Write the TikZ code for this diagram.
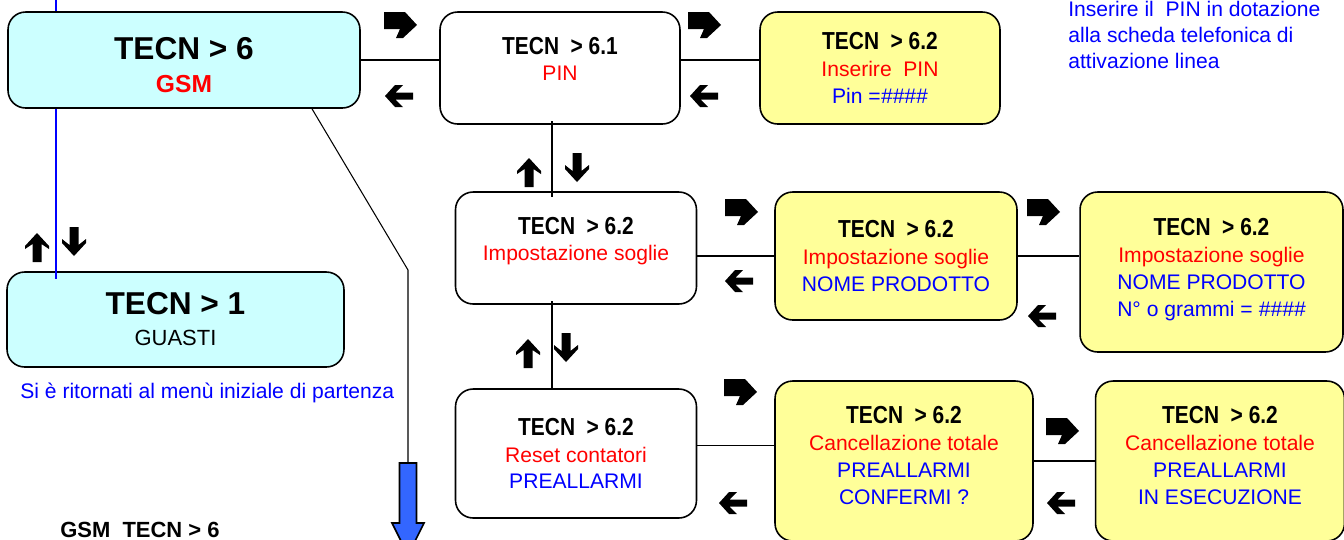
\documentclass[tikz,border=0pt]{standalone}
\usepackage{fontspec}
\setmainfont{Liberation Sans}
\newfontfamily\narrowfont[FakeStretch=0.85]{Liberation Sans}
\usepackage{xcolor}
\usetikzlibrary{positioning, calc}

\definecolor{menucyan}{HTML}{CCFFFF}
\definecolor{menuyellow}{HTML}{FFFF99}
\definecolor{txtred}{HTML}{FF0000}
\definecolor{txtblue}{HTML}{0000FF}
\definecolor{arrowblue}{HTML}{3366FF}

\newcommand{\tecn}[1]{{\narrowfont\bfseries\fontsize{14}{15.3}\selectfont TECN~~>~#1}}
\newcommand{\rosso}[1]{{\color{txtred}#1}}
\newcommand{\blu}[1]{{\color{txtblue}#1}}

\begin{document}
\begin{tikzpicture}[
    x=0.02cm, y=-0.02cm,
    menubox/.style={
        rectangle, rounded corners=10pt,
        draw=black, line width=0.9pt,
        align=center, inner sep=0pt,
        font=\fontsize{12}{15.3}\selectfont
    },
    mainbox/.style={menubox, fill=menucyan},
    subbox/.style={menubox, fill=white},
    valbox/.style={menubox, fill=menuyellow},
    link/.style={line width=0.6pt},
    bluelink/.style={line width=0.7pt, draw=txtblue},
    note/.style={font=\fontsize{12}{14.7}\selectfont, text=txtblue, inner sep=0pt, align=left},
    frecciadx/.pic={\fill (0,0) -- (21,0) -- (33,13) -- (19,26) -- (12,26) -- (16,17) -- (0,17) -- cycle;},
    frecciasx/.pic={\fill (0,11) -- (10,0) -- (18,0) -- (10.5,7.5) -- (28,7.5) -- (28,14.5) -- (10.5,14.5) -- (18,22) -- (10,22) -- cycle;},
    frecciasu/.pic={\fill (12,0) -- (24,13) -- (24,16) -- (16.5,11) -- (16.5,29) -- (7.5,29) -- (7.5,11) -- (0,16) -- (0,13) -- cycle;},
    frecciagiu/.pic={\fill (12,29) -- (24,16) -- (24,12) -- (16.5,18) -- (16.5,0) -- (7.5,0) -- (7.5,18) -- (0,12) -- (0,16) -- cycle;},
]
\useasboundingbox (0,0) rectangle (1344,539);

% Riquadri menu
\node[mainbox, minimum width=7.04cm, minimum height=1.92cm,
      font=\fontsize{12}{18.7}\selectfont] (gsm) at (184,60)
    {\rule{0pt}{18.7pt}{\fontsize{18}{18.7}\selectfont\bfseries TECN > 6}\\
     {\fontsize{14}{18.7}\selectfont\bfseries\color{txtred}GSM}};
\node[subbox, minimum width=4.8cm, minimum height=2.24cm] (pin) at (560,68)
    {\tecn{6.1}\\ \rosso{PIN}\\[-5pt]\mbox{}};
\node[valbox, minimum width=4.8cm, minimum height=2.24cm] (inspin) at (880,68)
    {\tecn{6.2}\\ \rosso{Inserire~~PIN}\\ \blu{Pin =\textit{\#\#\#\#}}};

\node[subbox, minimum width=4.82cm, minimum height=2.24cm] (soglie) at (576,248)
    {\tecn{6.2}\\ \rosso{Impostazione soglie}\\[-5pt]\mbox{}};
\node[valbox, minimum width=4.84cm, minimum height=2.56cm] (nomeprod) at (896,256)
    {\tecn{6.2}\\ \rosso{Impostazione soglie}\\ \blu{NOME PRODOTTO}};
\node[valbox, minimum width=5.26cm, minimum height=3.2cm] (grammi) at (1211.5,272)
    {\tecn{6.2}\\ \rosso{Impostazione soglie}\\ \blu{NOME PRODOTTO}\\
     \blu{N° o grammi = \textit{\#\#\#\#}}\\[-10pt]\mbox{}};

\node[subbox, minimum width=4.82cm, minimum height=2.58cm] (reset) at (576,453.5)
    {\tecn{6.2}\\ \rosso{Reset contatori}\\ \blu{PREALLARMI}};
\node[valbox, minimum width=5.16cm, minimum height=3.2cm] (conferma) at (904,461)
    {\tecn{6.2}\\ \rosso{Cancellazione totale}\\ \blu{PREALLARMI}\\
     \blu{CONFERMI ?}\\[-9pt]\mbox{}};
\node[valbox, minimum width=4.98cm, minimum height=3.2cm] (esecuzione) at (1220,461)
    {\tecn{6.2}\\ \rosso{Cancellazione totale}\\ \blu{PREALLARMI}\\
     \blu{IN ESECUZIONE}\\[-9pt]\mbox{}};

\node[mainbox, minimum width=6.74cm, minimum height=1.9cm,
      font=\fontsize{12}{17.6}\selectfont] (guasti) at (175.5,319.5)
    {{\fontsize{18}{17.6}\selectfont\bfseries TECN > 1}\\
     {\fontsize{12.5}{17.6}\selectfont GUASTI}};

% Note
\node[note, anchor=north west] (notapin) at (1068,1)
    {Inserire il~~PIN in dotazione\\ alla scheda telefonica di\\ attivazione linea};
\node[note, anchor=base west] (notaritorno) at (20,398)
    {Si è ritornati al menù iniziale di partenza};
\node[inner sep=0pt, anchor=base west, font=\fontsize{12.5}{15}\selectfont\bfseries]
    (titolo) at (60,537) {GSM~~TECN > 6};

% Collegamenti
\draw[link] (gsm.east) -- (gsm.east -| pin.west);
\draw[link] (gsm.east -| pin.east) -- (gsm.east -| inspin.west);
\draw[link, shorten <=-2pt, shorten >=-3pt] ([xshift=-0.16cm]pin.south) -- ([xshift=-0.16cm]pin.south |- soglie.north);
\draw[link, shorten <=-2pt] ([xshift=-0.48cm]soglie.south) -- ([xshift=-0.48cm]soglie.south |- reset.north);
\draw[link] (nomeprod.west -| soglie.east) -- (nomeprod.west);
\draw[link] (nomeprod.east) -- (nomeprod.east -| grammi.west);
\draw[link] ([yshift=4.8pt]reset.east) -- ([yshift=4.8pt]reset.east -| conferma.west);
\draw[link] (conferma.east) -- (conferma.east -| esecuzione.west);

% Ritorno al menu iniziale
\coordinate (bluetop) at (56,-2);
\draw[bluelink] (bluetop) -- (bluetop |- gsm.north);
\draw[bluelink] (bluetop |- gsm.south) -- ([yshift=-4.5pt]bluetop |- guasti.north);

% Uscita verso il basso
\coordinate (piega) at (408,270);
\coordinate (bigtop) at (408,463);
\draw[link] ([xshift=2.56cm]gsm.south) -- (piega) -- (bigtop);
\draw[line width=0.9pt, fill=arrowblue] (399.5,463) -- (416.5,463) -- (416.5,523)
    -- (424,523) -- (408,555) -- (392,523) -- (399.5,523) -- cycle;

% Frecce
\pic at (384,12) {frecciadx};
\pic at (688,12) {frecciadx};
\pic at (725,199) {frecciadx};
\pic at (1027,199) {frecciadx};
\pic at (724,379) {frecciadx};
\pic at (1046,418) {frecciadx};

\pic at (385,85) {frecciasx};
\pic at (690,85) {frecciasx};
\pic at (725,270) {frecciasx};
\pic at (1028,305) {frecciasx};
\pic at (719,492) {frecciasx};
\pic at (1047,492) {frecciasx};

\pic at (25,233) {frecciasu};
\pic at (517,158) {frecciasu};
\pic at (516,339) {frecciasu};
\pic at (62,227) {frecciagiu};
\pic at (565,153) {frecciagiu};
\pic at (554,333) {frecciagiu};
\end{tikzpicture}
\end{document}
